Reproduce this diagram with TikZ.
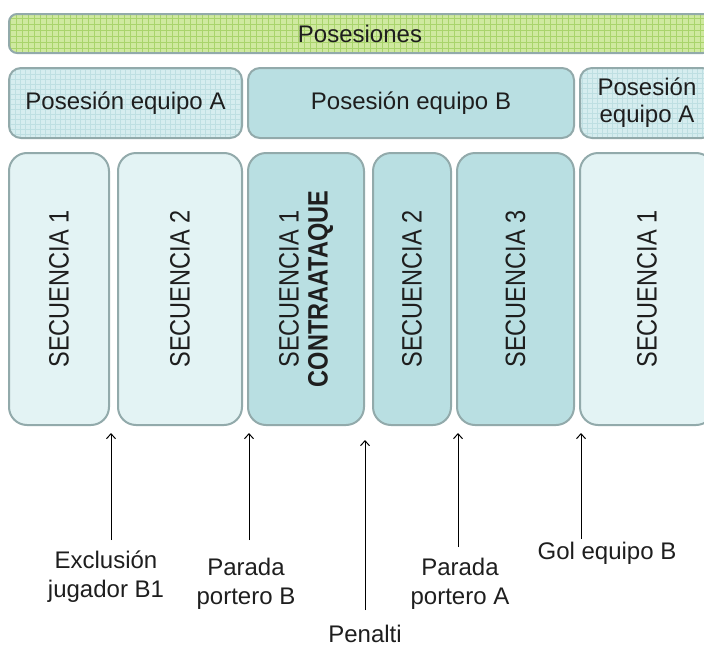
\documentclass[tikz,border=0pt]{standalone}
\usepackage{fontspec}
\usepackage{graphicx}
\setmainfont{Liberation Sans}
\usetikzlibrary{arrows.meta}
\definecolor{bordc}{HTML}{92AAAB}
\definecolor{greenfill}{HTML}{CFE9A0}
\definecolor{greengrid}{HTML}{A9D46C}
\definecolor{gridblue}{HTML}{D6EDEF}
\definecolor{gridbluel}{HTML}{BEDFE2}
\definecolor{darkteal}{HTML}{B9DFE2}
\definecolor{lightteal}{HTML}{E3F3F4}
\definecolor{txt}{HTML}{1E1E1E}
\newcommand\vtxt[1]{\scalebox{0.84}[1]{#1}}
\tikzset{
  every node/.style={font=\fontsize{24}{29}\selectfont, text=txt},
  boxbase/.style={draw=bordc, line width=2pt, inner sep=0pt},
  greenbar/.style={boxbase, rounded corners=8pt, fill=greenfill,
    path picture={\draw[greengrid, line width=0.5pt, step=6pt]
      (path picture bounding box.south west) grid (path picture bounding box.north east);}},
  gridbox/.style={boxbase, rounded corners=12pt, fill=gridblue, align=center,
    path picture={\draw[gridbluel, line width=0.5pt, step=5pt]
      (path picture bounding box.south west) grid (path picture bounding box.north east);}},
  solidbox/.style={boxbase, rounded corners=12pt, fill=darkteal},
  seqbase/.style={boxbase, rounded corners=18pt, rotate=90, align=center,
    font=\fontsize{28}{29}\selectfont},
  seqlight/.style={seqbase, fill=lightteal},
  seqdark/.style={seqbase, fill=darkteal},
  evlabel/.style={align=center, inner sep=0pt},
  arr/.style={-{Straight Barb[length=5pt,width=9pt]}, line width=1pt, black}
}
\begin{document}
\begin{tikzpicture}[x=1pt,y=-1pt]
\useasboundingbox (0,0) rectangle (704,648);
% top bar
\node[greenbar, minimum width=702pt, minimum height=39pt] (pos) at (360,33.5) {Posesiones};
% row 2
\node[gridbox, minimum width=233pt, minimum height=70pt] (pa) at (125.5,103) {Posesión equipo A};
\node[solidbox, minimum width=326pt, minimum height=70pt] (pb) at (411,103) {Posesión equipo B};
\node[gridbox, minimum width=134pt, minimum height=70pt] (pa2) at (647,103) {Posesión\\[-2pt]equipo A};
% row 3 (rotated: width = vertical extent)
\node[seqlight, minimum width=272pt, minimum height=100pt] (s1) at (59,289) {\vtxt{SECUENCIA 1}};
\node[seqlight, minimum width=272pt, minimum height=124pt] (s2) at (180,289) {\vtxt{SECUENCIA 2}};
\node[seqdark, minimum width=272pt, minimum height=116pt] (s3) at (306,289) {\vtxt{SECUENCIA 1}\\\vtxt{\textbf{CONTRAATAQUE}}};
\node[seqdark, minimum width=272pt, minimum height=78pt] (s4) at (412,289) {\vtxt{SECUENCIA 2}};
\node[seqdark, minimum width=272pt, minimum height=117pt] (s5) at (515.5,289) {\vtxt{SECUENCIA 3}};
\node[seqlight, minimum width=272pt, minimum height=134pt] (s6) at (647,289) {\vtxt{SECUENCIA 1}};
% event labels
\node[evlabel] (e1) at (106,577) {Exclusión\\jugador B1};
\node[evlabel] (e2) at (246,584) {Parada\\portero B};
\node[evlabel] (e3) at (365,634) {Penalti};
\node[evlabel] (e4) at (460,584) {Parada\\portero A};
\node[evlabel] (e5) at (607,553) {Gol equipo B};
% arrow ends
\coordinate (t1) at (111,540); \coordinate (h1) at (111,433);
\coordinate (t2) at (249,540); \coordinate (h2) at (249,433);
\coordinate (t3) at (365,610); \coordinate (h3) at (365,440);
\coordinate (t4) at (458,547); \coordinate (h4) at (458,433);
\coordinate (t5) at (581,539); \coordinate (h5) at (581,433);
\draw[arr] (t1) -- (h1);
\draw[arr] (t2) -- (h2);
\draw[arr] (t3) -- (h3);
\draw[arr] (t4) -- (h4);
\draw[arr] (t5) -- (h5);
\end{tikzpicture}
\end{document}
